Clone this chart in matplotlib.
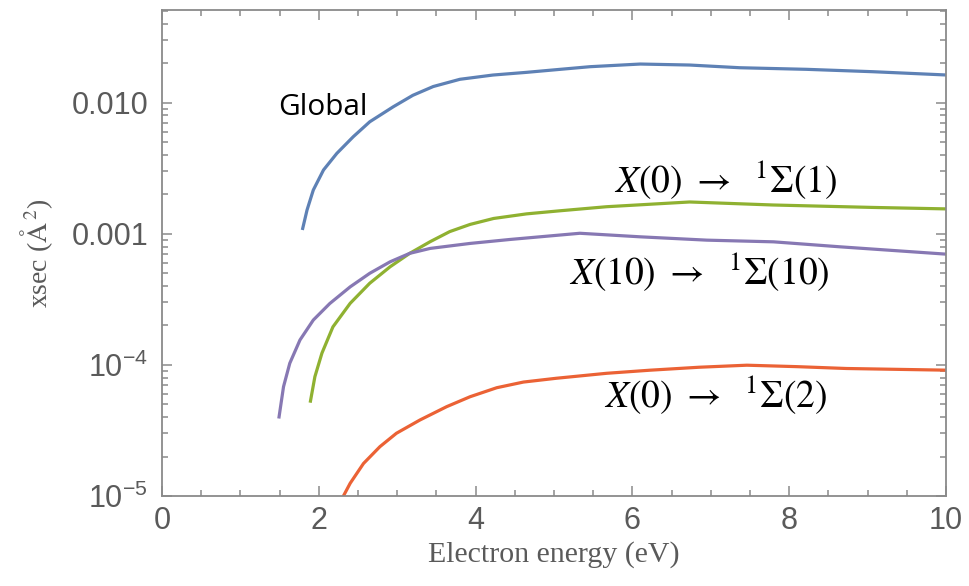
import numpy as np
import matplotlib
matplotlib.use("Agg")
import matplotlib.pyplot as plt
from matplotlib.ticker import FixedLocator, LogLocator, NullFormatter, FixedFormatter, MultipleLocator

# ---- data ----
global_x = [1.79, 1.85, 1.93, 2.06, 2.23, 2.44, 2.65, 2.95, 3.20, 3.46, 3.80, 4.22, 4.65, 5.08, 5.46,
            6.10, 6.73, 7.37, 8.22, 9.07, 10.0]
global_y = [1.07e-3, 1.52e-3, 2.16e-3, 3.07e-3, 4.11e-3, 5.51e-3, 7.16e-3, 9.32e-3, 1.14e-2, 1.33e-2,
            1.51e-2, 1.627e-2, 1.706e-2, 1.799e-2, 1.884e-2, 1.974e-2, 1.940e-2, 1.850e-2, 1.799e-2,
            1.725e-2, 1.629e-2]

s1_x = [1.89, 1.95, 2.04, 2.18, 2.40, 2.65, 2.91, 3.16, 3.42, 3.67, 3.93, 4.23, 4.65, 5.08, 5.67,
        6.73, 7.79, 9.07, 10.0]
s1_y = [5.15e-5, 8.13e-5, 1.23e-4, 1.95e-4, 2.95e-4, 4.20e-4, 5.61e-4, 7.10e-4, 8.71e-4, 1.04e-3,
        1.18e-3, 1.31e-3, 1.42e-3, 1.50e-3, 1.61e-3, 1.75e-3, 1.66e-3, 1.59e-3, 1.55e-3]

s10_x = [1.49, 1.55, 1.63, 1.76, 1.93, 2.14, 2.40, 2.65, 2.91, 3.16, 3.42, 3.93, 4.44, 5.33, 6.10,
         6.95, 7.80, 8.65, 10.0]
s10_y = [3.90e-5, 6.82e-5, 1.03e-4, 1.55e-4, 2.20e-4, 2.94e-4, 3.94e-4, 5.00e-4, 6.12e-4, 7.10e-4,
         7.74e-4, 8.45e-4, 9.06e-4, 1.01e-3, 9.49e-4, 8.95e-4, 8.69e-4, 7.96e-4, 7.00e-4]

s2_x = [2.31, 2.40, 2.57, 2.78, 2.99, 3.29, 3.63, 3.93, 4.27, 4.61, 5.03, 5.67, 6.22, 6.85, 7.46,
        8.10, 8.73, 10.0]
s2_y = [9.9e-6, 1.25e-5, 1.77e-5, 2.38e-5, 3.01e-5, 3.80e-5, 4.80e-5, 5.72e-5, 6.70e-5, 7.40e-5,
        7.91e-5, 8.63e-5, 9.11e-5, 9.60e-5, 9.95e-5, 9.70e-5, 9.39e-5, 9.12e-5]

ytick_vals = [1e-5, 1e-4, 1e-3, 1e-2]
ytick_labels = [r"$10^{-5}$", r"$10^{-4}$", "0.001", "0.010"]
xtick_vals = [0, 2, 4, 6, 8, 10]

# ---- style ----
plt.rcParams['mathtext.fontset'] = 'custom'
plt.rcParams['mathtext.rm'] = 'Liberation Sans'
plt.rcParams['mathtext.it'] = 'Liberation Sans:italic'
plt.rcParams['mathtext.bf'] = 'Liberation Sans:bold'

TXT = '#5a5a5a'
FRAME = '#8a8a8a'

fig = plt.figure(figsize=(9.69, 5.86), dpi=100)
ax = fig.add_axes([162/969, 1-496/586, (946-162)/969, (496-10)/586])

lw = 2.3
ax.plot(global_x, global_y, color='#5E81B5', lw=lw, solid_capstyle='butt', solid_joinstyle='round')
ax.plot(s1_x, s1_y, color='#8FB131', lw=lw, solid_capstyle='butt', solid_joinstyle='round')
ax.plot(s10_x, s10_y, color='#8778B3', lw=lw, solid_capstyle='butt', solid_joinstyle='round')
ax.plot(s2_x, s2_y, color='#EB6235', lw=lw, solid_capstyle='butt', solid_joinstyle='round')

ax.set_yscale('log')
ax.set_xlim(0, 10)
ax.set_ylim(1e-5, 10**(-1.2924))

ax.yaxis.set_major_locator(FixedLocator(ytick_vals))
ax.yaxis.set_major_formatter(FixedFormatter(ytick_labels))
ax.yaxis.set_minor_locator(LogLocator(base=10, subs=np.arange(2, 10)))
ax.yaxis.set_minor_formatter(NullFormatter())
ax.xaxis.set_major_locator(FixedLocator(xtick_vals))
ax.xaxis.set_minor_locator(MultipleLocator(0.5))

for s in ax.spines.values():
    s.set_color(FRAME)
    s.set_linewidth(1.3)

ax.tick_params(which='both', direction='in', top=True, right=True, color=FRAME, width=1.1)
ax.tick_params(which='major', length=7)
ax.tick_params(which='minor', length=4)
ax.tick_params(axis='both', labelsize=22, labelcolor=TXT)
ax.tick_params(axis='y', pad=10)
ax.tick_params(axis='x', pad=7)
for lab in ax.get_xticklabels() + ax.get_yticklabels():
    lab.set_fontfamily('Liberation Sans')

ax.set_xlabel('Electron energy (eV)', fontfamily='Liberation Serif', fontsize=21.5, color=TXT, labelpad=4)
ax.set_ylabel(r'xsec ($\mathrm{\AA}^{\,2}$)', fontfamily='Liberation Serif', fontsize=20, color=TXT,
              labelpad=12, math_fontfamily='stix')

# annotations
ax.text(2.05, 10**(-2.04), 'Global', fontfamily='Open Sans', fontsize=21.5, color='black',
        ha='center', va='center')
ax.text(7.19, 10**(-2.59), r'$X(0)\ \rightarrow\ \ {}^{1}\Sigma(1)$', fontsize=27, color='black',
        ha='center', va='center', math_fontfamily='stix')
ax.text(6.86, 10**(-3.29), r'$X(10)\ \rightarrow\ \ {}^{1}\Sigma(10)$', fontsize=27, color='black',
        ha='center', va='center', math_fontfamily='stix')
ax.text(7.06, 10**(-4.23), r'$X(0)\ \rightarrow\ \ {}^{1}\Sigma(2)$', fontsize=27, color='black',
        ha='center', va='center', math_fontfamily='stix')

fig.savefig('out.png', dpi=100)
